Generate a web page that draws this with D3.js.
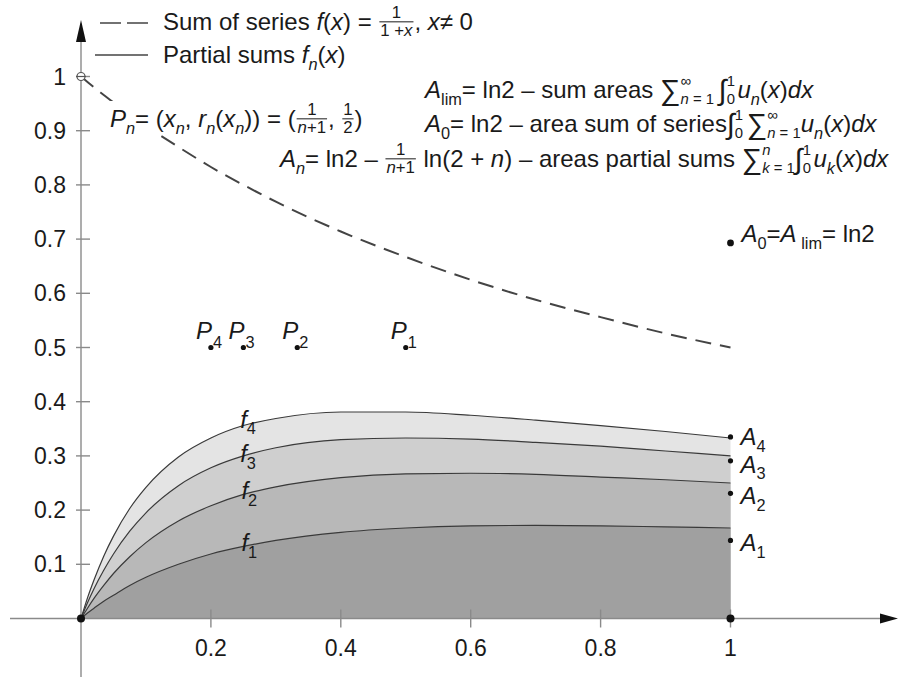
<!DOCTYPE html>
<html>
<head>
<meta charset="utf-8">
<script src="https://cdn.jsdelivr.net/npm/d3@7"></script>
<style>
  body { margin: 0; background: #fff; }
  svg { font-family: "Liberation Sans", Arial, sans-serif; fill: #1a1a1a; }
  svg text { white-space: pre; }
</style>
</head>
<body>
<div id="chart"></div>
<script>
// sample abscissas and values
const xs = [0, 0.01, 0.02, 0.035, 0.05, 0.075, 0.1, 0.15, 0.2, 0.25, 0.3, 0.4, 0.5, 0.6, 0.7, 0.8, 0.9, 1];
const sumSeries = [1, 0.990, 0.980, 0.966, 0.952, 0.930, 0.909, 0.870, 0.833, 0.800, 0.769, 0.714, 0.667, 0.625, 0.588, 0.556, 0.526, 0.5];
const f1 = [0, 0.010, 0.019, 0.032, 0.043, 0.061, 0.076, 0.100, 0.119, 0.133, 0.144, 0.159, 0.167, 0.171, 0.172, 0.171, 0.169, 0.167];
const f2 = [0, 0.019, 0.037, 0.061, 0.083, 0.114, 0.140, 0.180, 0.208, 0.229, 0.243, 0.260, 0.267, 0.268, 0.266, 0.261, 0.256, 0.250];
const f3 = [0, 0.029, 0.055, 0.089, 0.119, 0.161, 0.195, 0.245, 0.278, 0.300, 0.315, 0.330, 0.333, 0.331, 0.325, 0.318, 0.309, 0.300];
const f4 = [0, 0.038, 0.071, 0.115, 0.152, 0.203, 0.242, 0.298, 0.333, 0.356, 0.369, 0.381, 0.381, 0.375, 0.366, 0.356, 0.345, 0.333];
const partialSums = [f1, f2, f3, f4];
const bandColors = ['#a0a0a0', '#b8b8b8', '#cfcfcf', '#e4e4e4'];

const pointsP = [[0.5, 0.5], [0.333, 0.5], [0.25, 0.5], [0.2, 0.5]];
const areasA = [0.144, 0.231, 0.291, 0.335];
const areaLim = 0.693;

const xTicks = [0.2, 0.4, 0.6, 0.8, 1];
const yTicks = [0.1, 0.2, 0.3, 0.4, 0.5, 0.6, 0.7, 0.8, 0.9, 1];

const W = 898, H = 677;
const svg = d3.select('#chart').append('svg').attr('width', W).attr('height', H);

const x = d3.scaleLinear().domain([0, 1]).range([81, 730.5]);
const y = d3.scaleLinear().domain([0, 1]).range([618.5, 76.5]);
const FS = 24;

// --- tiny math typesetter: lays out pieces left to right ---
function word(g, s, px, py, fs, italic) {
  const t = g.append('text').attr('x', px).attr('y', py).attr('font-size', fs).text(s);
  if (italic) t.attr('font-style', 'italic');
  return t.node().getComputedTextLength();
}
function layout(g, items, x0, y0, fs) {
  let cx = x0;
  items.forEach(it => {
    if (typeof it === 'string') cx += word(g, it, cx, y0, fs, false);
    else if (it.i) cx += word(g, it.i, cx, y0, fs, true);
    else if (it.gap) cx += it.gap * fs;
    else if (it.big) cx += word(g, it.big, cx, y0 + fs * 0.1, fs * 1.2, false);
    else if (it.sub) cx += layout(g, it.sub, cx, y0 + fs * 0.28, fs * 0.68);
    else if (it.frac) {
      const gn = g.append('g'), gd = g.append('g');
      const wn = layout(gn, it.frac[0], 0, y0 - fs * 0.48, fs * 0.7);
      const wd = layout(gd, it.frac[1], 0, y0 + fs * 0.24, fs * 0.7);
      const w = Math.max(wn, wd) + fs * 0.16;
      gn.attr('transform', `translate(${cx + (w - wn) / 2},0)`);
      gd.attr('transform', `translate(${cx + (w - wd) / 2},0)`);
      g.append('line')
        .attr('x1', cx + fs * 0.04).attr('x2', cx + w - fs * 0.04)
        .attr('y1', y0 - fs * 0.34).attr('y2', y0 - fs * 0.34)
        .attr('stroke', '#1a1a1a').attr('stroke-width', 1);
      cx += w;
    } else if (it.lim) {
      const ws = layout(g, it.lim[0], cx, y0 - fs * 0.5, fs * 0.62);
      const wb = layout(g, it.lim[1], cx, y0 + fs * 0.25, fs * 0.62);
      cx += Math.max(ws, wb);
    }
  });
  return cx - x0;
}
function mathText(x0, y0, items, fs) {
  const g = svg.append('g');
  layout(g, items, x0, y0, fs || FS);
  return g;
}

// --- filled partial sums, top band first ---
const idx = d3.range(xs.length);
for (let k = partialSums.length - 1; k >= 0; k--) {
  const vals = partialSums[k];
  svg.append('path')
    .datum(idx)
    .attr('fill', bandColors[k])
    .attr('d', d3.area().x(i => x(xs[i])).y0(y(0)).y1(i => y(vals[i])).curve(d3.curveMonotoneX));
}
partialSums.forEach(vals => {
  svg.append('path')
    .datum(idx)
    .attr('fill', 'none')
    .attr('stroke', '#3a3a3a')
    .attr('stroke-width', 1.2)
    .attr('d', d3.line().x(i => x(xs[i])).y(i => y(vals[i])).curve(d3.curveMonotoneX));
});

// --- axes ---
const axisCol = '#8a8a8a';
svg.append('line').attr('x1', 10).attr('x2', 886).attr('y1', y(0)).attr('y2', y(0))
  .attr('stroke', axisCol).attr('stroke-width', 1.4);
svg.append('path').attr('d', `M898,${y(0)} L880,${y(0) - 5} L880,${y(0) + 5} Z`).attr('fill', '#111');
svg.append('line').attr('x1', x(0)).attr('x2', x(0)).attr('y1', 677).attr('y2', 34)
  .attr('stroke', axisCol).attr('stroke-width', 1.4);
svg.append('path').attr('d', `M${x(0)},20 L${x(0) - 5},42 L${x(0) + 5},42 Z`).attr('fill', '#111');

xTicks.forEach(t => {
  svg.append('line').attr('x1', x(t)).attr('x2', x(t)).attr('y1', y(0) - 9).attr('y2', y(0) + 9)
    .attr('stroke', axisCol).attr('stroke-width', 1.4);
  svg.append('text').attr('x', x(t)).attr('y', 656).attr('text-anchor', 'middle')
    .attr('font-size', 23).text(d3.format('~g')(t));
});
yTicks.forEach(t => {
  svg.append('line').attr('x1', x(0) - 5).attr('x2', x(0) + 9).attr('y1', y(t)).attr('y2', y(t))
    .attr('stroke', axisCol).attr('stroke-width', 1.4);
  svg.append('text').attr('x', 66).attr('y', y(t) + 8).attr('text-anchor', 'end')
    .attr('font-size', 23).text(d3.format('~g')(t));
});

// --- sum of series, dashed ---
svg.append('path')
  .datum(idx)
  .attr('fill', 'none')
  .attr('stroke', '#444')
  .attr('stroke-width', 2)
  .attr('stroke-dasharray', '16,9')
  .attr('d', d3.line().x(i => x(xs[i])).y(i => y(sumSeries[i])).curve(d3.curveMonotoneX));
svg.append('circle').attr('cx', x(0)).attr('cy', y(1)).attr('r', 4)
  .attr('fill', '#fff').attr('stroke', '#555').attr('stroke-width', 1.2);
svg.append('line').attr('x1', x(0) - 5).attr('x2', x(0) + 5).attr('y1', y(1)).attr('y2', y(1))
  .attr('stroke', '#555').attr('stroke-width', 1.2);

// --- legend ---
svg.append('line').attr('x1', 100).attr('x2', 148).attr('y1', 23).attr('y2', 23)
  .attr('stroke', '#444').attr('stroke-width', 1.6).attr('stroke-dasharray', '21,6');
svg.append('line').attr('x1', 95).attr('x2', 148).attr('y1', 55).attr('y2', 55)
  .attr('stroke', '#444').attr('stroke-width', 1.4);
mathText(163, 30, ['Sum of series ', {i: 'f'}, '(', {i: 'x'}, ') = ',
  {frac: [['1'], ['1 +', {i: 'x'}]]}, ', ', {i: 'x'}, '≠ 0']);
mathText(163, 63, ['Partial sums ', {i: 'f'}, {sub: [{i: 'n'}]}, '(', {i: 'x'}, ')']);

// --- annotations ---
svg.append('rect').attr('x', 106).attr('y', 101).attr('width', 272).attr('height', 32).attr('fill', '#fff');
mathText(110, 127, [{i: 'P'}, {sub: [{i: 'n'}]}, '= (', {i: 'x'}, {sub: [{i: 'n'}]}, ', ', {i: 'r'},
  {sub: [{i: 'n'}]}, '(', {i: 'x'}, {sub: [{i: 'n'}]}, ')) = (',
  {frac: [['1'], [{i: 'n'}, '+1']]}, ', ', {frac: [['1'], ['2']]}, ')']);

mathText(425, 98, [{i: 'A'}, {sub: ['lim']}, '= ln2 – sum areas ', {big: '∑'}, {lim: [['∞'], [{i: 'n'}, ' = 1']]},
  {gap: 0.2}, {big: '∫'}, {lim: [['1'], ['0']]}, {gap: 0.1}, {i: 'u'}, {sub: [{i: 'n'}]}, '(', {i: 'x'}, ')', {i: 'dx'}]);
mathText(425, 132, [{i: 'A'}, {sub: ['0']}, '= ln2 – area sum of series', {big: '∫'}, {lim: [['1'], ['0']]},
  {gap: 0.15}, {big: '∑'}, {lim: [['∞'], [{i: 'n'}, ' = 1']]}, {i: 'u'}, {sub: [{i: 'n'}]}, '(', {i: 'x'}, ')', {i: 'dx'}]);
mathText(280, 167, [{i: 'A'}, {sub: [{i: 'n'}]}, '= ln2 – ', {frac: [['1'], [{i: 'n'}, '+1']]},
  ' ln(2 + ', {i: 'n'}, ') – areas partial sums ', {big: '∑'}, {lim: [[{i: 'n'}], [{i: 'k'}, ' = 1']]},
  {big: '∫'}, {lim: [['1'], ['0']]}, {gap: 0.1}, {i: 'u'}, {sub: [{i: 'k'}]}, '(', {i: 'x'}, ')', {i: 'dx'}]);

// --- points P_n ---
pointsP.forEach((p, k) => {
  svg.append('circle').attr('cx', x(p[0])).attr('cy', y(p[1])).attr('r', 2.6).attr('fill', '#111');
  svg.append('text').attr('x', x(p[0]) - 15).attr('y', y(p[1]) - 9).attr('font-size', FS)
    .attr('font-style', 'italic').text('P');
  svg.append('text').attr('x', x(p[0]) + 2).attr('y', y(p[1])).attr('font-size', FS * 0.68).text(k + 1);
});

// --- points A_n at x = 1 ---
const aDy = [11, 11, 12, 8];
areasA.forEach((a, k) => {
  svg.append('circle').attr('cx', x(1)).attr('cy', y(a)).attr('r', 2.6).attr('fill', '#111');
  mathText(x(1) + 10, y(a) + aDy[k], [{i: 'A'}, {sub: [String(k + 1)]}]);
});
svg.append('circle').attr('cx', x(1)).attr('cy', y(areaLim)).attr('r', 3.4).attr('fill', '#111');
mathText(x(1) + 11, y(areaLim) - 1, [{i: 'A'}, {sub: ['0']}, '=', {i: 'A'}, {sub: [' lim']}, '= ln2']);

// --- curve labels f_n ---
const fDy = [5, 5, 6, 2];
const fX = [0.247, 0.247, 0.245, 0.245];
partialSums.forEach((vals, k) => {
  mathText(x(fX[k]), y(vals[9]) + fDy[k], [{i: 'f'}, {sub: [String(k + 1)]}]);
});

// origin and (1,0) dots
svg.append('circle').attr('cx', x(0)).attr('cy', y(0)).attr('r', 4).attr('fill', '#111');
svg.append('circle').attr('cx', x(1)).attr('cy', y(0)).attr('r', 4).attr('fill', '#111');
</script>
</body>
</html>
